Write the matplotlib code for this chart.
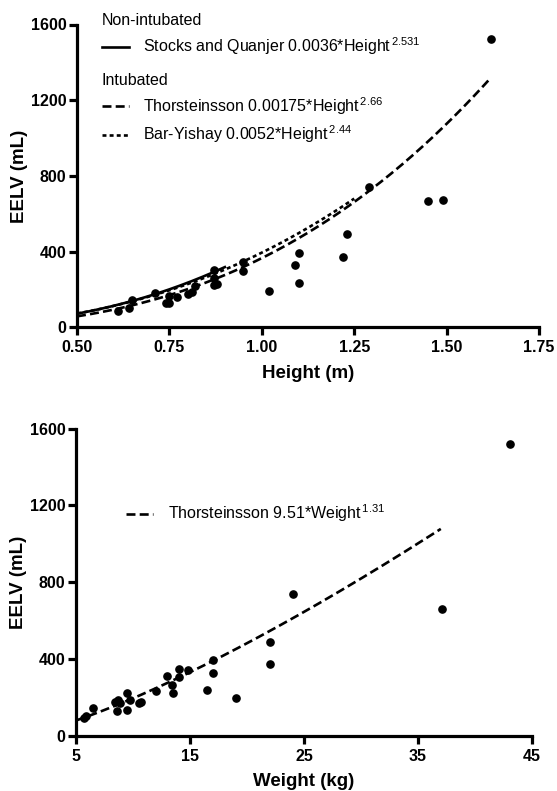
import numpy as np
import matplotlib
matplotlib.use('Agg')
import matplotlib.pyplot as plt

plt.rcParams['font.family'] = ['Liberation Sans', 'DejaVu Sans']
plt.rcParams['mathtext.fontset'] = 'custom'
plt.rcParams['mathtext.rm'] = 'Liberation Sans'
plt.rcParams['mathtext.it'] = 'Liberation Sans'
plt.rcParams['mathtext.bf'] = 'Liberation Sans:bold'

# ---- data: EELV vs height ----
height_m = [0.61, 0.64, 0.65, 0.71, 0.74, 0.75, 0.75, 0.77, 0.80, 0.81, 0.82,
            0.87, 0.87, 0.87, 0.88, 0.95, 0.95, 1.02, 1.09, 1.10, 1.10,
            1.22, 1.23, 1.29, 1.45, 1.49, 1.62]
eelv_h = [86, 102, 142, 180, 128, 128, 163, 159, 176, 188, 219,
          305, 260, 226, 230, 344, 300, 194, 328, 395, 236,
          374, 492, 741, 665, 674, 1525]

# ---- data: EELV vs weight ----
weight_kg = [5.7, 5.9, 6.5, 8.4, 8.7, 8.6, 8.9, 9.45, 9.5, 9.7, 10.5, 10.7,
             12.0, 13.0, 13.4, 13.5, 14.0, 14.0, 14.8, 16.5, 17.0, 17.0,
             19.0, 22.0, 22.0, 24.0, 37.1, 43.1]
eelv_w = [90, 102, 142, 176, 185, 129, 171, 220, 133, 185, 171, 176,
          234, 310, 263, 223, 345, 304, 342, 237, 328, 394,
          196, 489, 373, 736, 660, 1522]

# ---- prediction equations as printed (height in cm) ----
eq_names = ['Stocks and Quanjer', 'Thorsteinsson', 'Bar-Yishay']
eq_coef_txt = ['0.0036', '0.00175', '0.0052']
eq_exp_txt = ['2.531', '2.66', '2.44']
eq_hmax = [0.90, 1.62, 1.25]
w_coef_txt, w_exp_txt = '9.51', '1.31'
w_range = [5, 37]

y_ticks = [0, 400, 800, 1200, 1600]
h_ticks = [0.50, 0.75, 1.00, 1.25, 1.50, 1.75]
w_ticks = [5, 15, 25, 35, 45]

W, H = 557, 791
fig = plt.figure(figsize=(W / 100, H / 100), dpi=100)
ax1 = fig.add_axes([77 / W, 1 - 327.3 / H, 462 / W, 302.8 / H])
ax2 = fig.add_axes([76 / W, 1 - 735.5 / H, 456 / W, 306.7 / H])

styles = [dict(linestyle='-'), dict(dashes=(3.4, 1.6)), dict(dashes=(1.5, 1.2))]
LW = 1.9


def style_axes(ax):
    for s in ['top', 'right']:
        ax.spines[s].set_visible(False)
    for s in ['left', 'bottom']:
        ax.spines[s].set_linewidth(2.3)
    ax.tick_params(direction='out', length=5.5, width=2.3, pad=2,
                   labelsize=11.5)
    ax.tick_params(axis='x', pad=4)
    for lab in ax.get_xticklabels() + ax.get_yticklabels():
        lab.set_fontweight('bold')
    ax.set_ylim(0, 1600)
    ax.set_yticks(y_ticks)
    ax.set_ylabel('EELV (mL)', fontsize=13.5, fontweight='bold', labelpad=2)


# ---- top panel ----
handles = []
labels = []
for name, c, e, hmax, st in zip(eq_names, eq_coef_txt, eq_exp_txt, eq_hmax, styles):
    hh = np.linspace(0.5, hmax, 200)
    vv = float(c) * (hh * 100) ** float(e)
    ln, = ax1.plot(hh, vv, color='black', lw=LW, **st)
    handles.append(ln)
    labels.append(f'{name} {c}*Height$^{{\\,{e}}}$')
ax1.plot(height_m, eelv_h, 'o', color='black', ms=5.2, clip_on=False, zorder=5)
ax1.set_xlim(0.5, 1.75)
ax1.set_xticks(h_ticks)
ax1.set_xticklabels([f'{t:.2f}' for t in h_ticks])
ax1.set_xlabel('Height (m)', fontsize=13.5, fontweight='bold', labelpad=7)
style_axes(ax1)

common = dict(loc='upper left', frameon=False, fontsize=11.5, title_fontsize=11.5,
              handlelength=1.7, handletextpad=0.9, alignment='left',
              borderaxespad=0, labelspacing=0.45)
leg1 = ax1.legend([handles[0]], [labels[0]], title='Non-intubated',
                  bbox_to_anchor=(0.040, 1.058), **common)
ax1.add_artist(leg1)
leg2 = ax1.legend(handles[1:], labels[1:], title='Intubated',
                  bbox_to_anchor=(0.040, 0.862), **common)

# ---- bottom panel ----
ww = np.linspace(w_range[0], w_range[1], 200)
vw = float(w_coef_txt) * ww ** float(w_exp_txt)
lw_line, = ax2.plot(ww, vw, color='black', lw=LW, **styles[1])
ax2.plot(weight_kg, eelv_w, 'o', color='black', ms=5.2, clip_on=False, zorder=5)
ax2.set_xlim(5, 45)
ax2.set_xticks(w_ticks)
ax2.set_xlabel('Weight (kg)', fontsize=13.5, fontweight='bold', labelpad=7)
style_axes(ax2)
ax2.legend([lw_line], [f'Thorsteinsson {w_coef_txt}*Weight$^{{\\,{w_exp_txt}}}$'],
           bbox_to_anchor=(0.096, 0.78), **{k: v for k, v in common.items()
                                            if k != 'title_fontsize'})

fig.savefig('out.png', dpi=100)
